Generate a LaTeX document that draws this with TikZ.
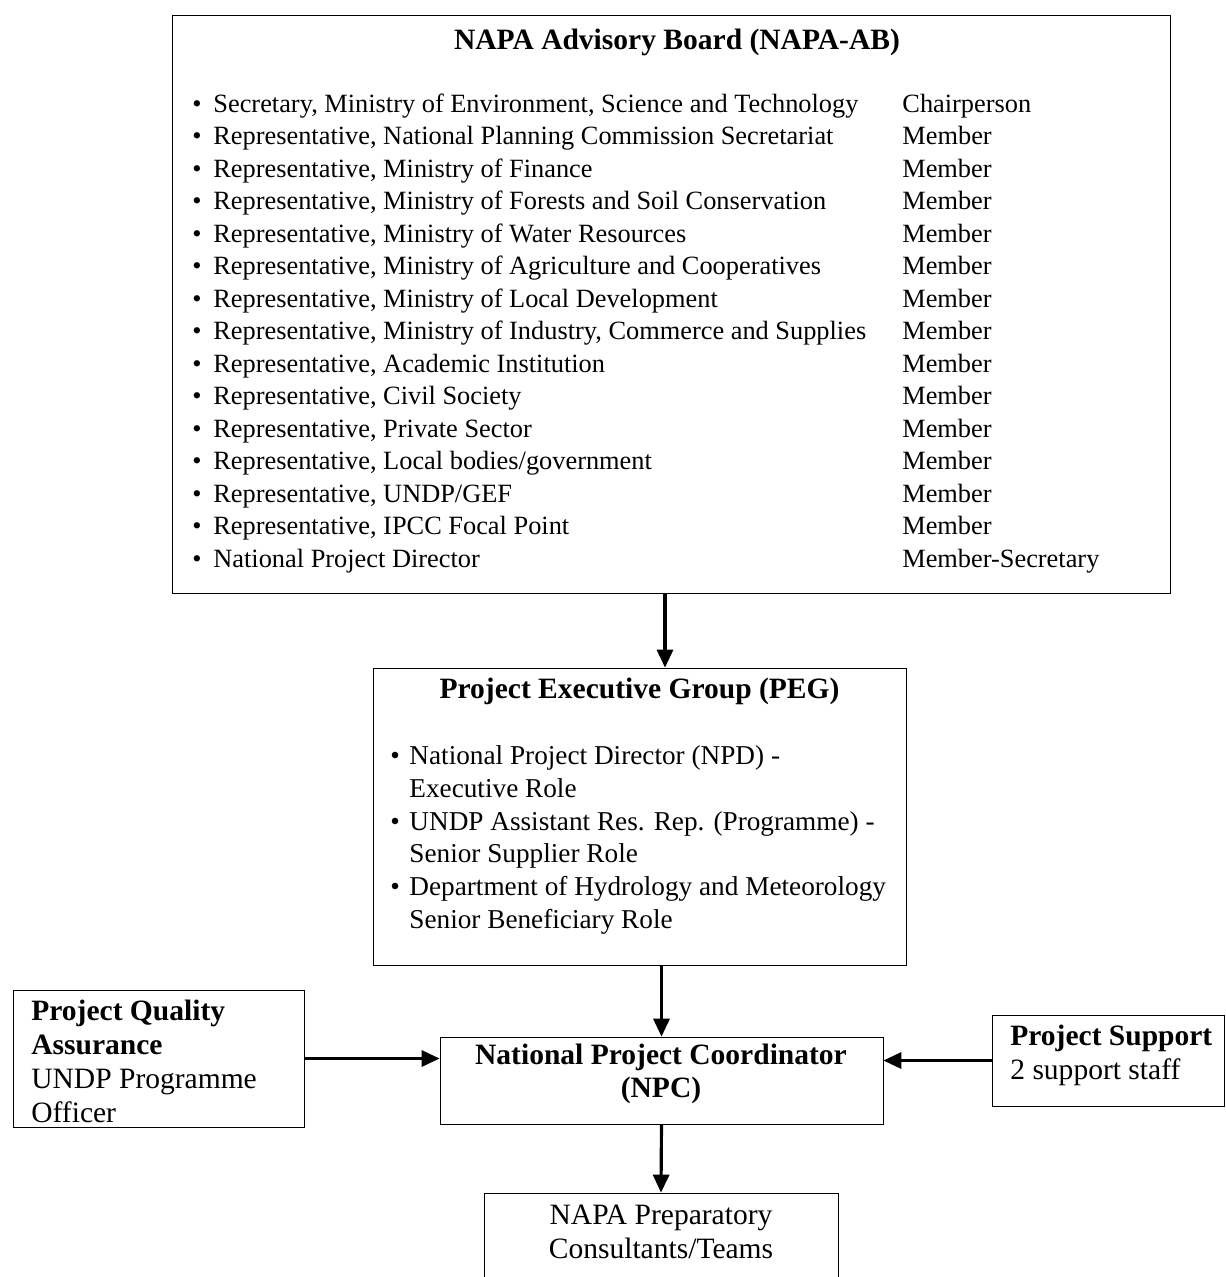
\documentclass[tikz,border=0pt]{standalone}
\usepackage{fontspec}
\setmainfont{Liberation Serif}
\usepackage{array}
\usetikzlibrary{positioning,arrows.meta,calc}

\begin{document}
\begin{tikzpicture}[
    line/.style={draw, line width=1.8pt, -{Triangle[length=0.36cm,width=0.32cm]}},
    box/.style={draw, rectangle, thin, inner sep=0pt},
    txt/.style={font=\fontsize{16.8}{19.3}\selectfont, inner sep=0pt, align=center},
    head/.style={font=\fontsize{16.8}{18.7}\selectfont\bfseries, inner sep=0pt}
]
\useasboundingbox (0,0) rectangle (24.52,-25.54);

% advisory board
\node[box, minimum width=19.96cm, minimum height=11.56cm] (ab) at (13.42,-6.08) {};
\node[head] (abtitle) at (13.54,-0.84) {NAPA Advisory Board (NAPA-AB)};
\node[anchor=north west, inner sep=0pt, font=\fontsize{15}{18.5}\selectfont] (members) at (3.84,-1.78) {%
\begin{tabular}{@{}p{14.20cm}@{}l@{}}
\textbullet\hspace{0.45em}Secretary, Ministry of Environment, Science and Technology & Chairperson\\
\textbullet\hspace{0.45em}Representative, National Planning Commission Secretariat & Member\\
\textbullet\hspace{0.45em}Representative, Ministry of Finance & Member\\
\textbullet\hspace{0.45em}Representative, Ministry of Forests and Soil Conservation & Member\\
\textbullet\hspace{0.45em}Representative, Ministry of Water Resources & Member\\
\textbullet\hspace{0.45em}Representative, Ministry of Agriculture and Cooperatives & Member\\
\textbullet\hspace{0.45em}Representative, Ministry of Local Development & Member\\
\textbullet\hspace{0.45em}Representative, Ministry of Industry, Commerce and Supplies & Member\\
\textbullet\hspace{0.45em}Representative, Academic Institution & Member\\
\textbullet\hspace{0.45em}Representative, Civil Society & Member\\
\textbullet\hspace{0.45em}Representative, Private Sector & Member\\
\textbullet\hspace{0.45em}Representative, Local bodies/government & Member\\
\textbullet\hspace{0.45em}Representative, UNDP/GEF & Member\\
\textbullet\hspace{0.45em}Representative, IPCC Focal Point & Member\\
\textbullet\hspace{0.45em}National Project Director & Member-Secretary
\end{tabular}};

% executive group
\node[box, minimum width=10.66cm, minimum height=5.94cm] (peg) at (12.79,-16.33) {};
\node[head] (pegtitle) at (12.79,-13.82) {Project Executive Group (PEG)};
\node[anchor=north west, inner sep=0pt, font=\fontsize{15.5}{18.7}\selectfont] (pegroles) at (7.80,-14.82) {%
\begin{tabular}{@{}l@{\hspace{0.35em}}l@{}}
\textbullet & National Project Director (NPD) -\\
 & Executive Role\\
\textbullet & UNDP Assistant Res. Rep. (Programme) -\\
 & Senior Supplier Role\\
\textbullet & Department of Hydrology and Meteorology\\
 & Senior Beneficiary Role
\end{tabular}};

% coordinator and side boxes
\node[box, minimum width=8.86cm, minimum height=1.74cm] (npc) at (13.23,-21.61) {};
\node[head, align=center] (npctext) at (13.22,-21.48) {National Project Coordinator\\(NPC)};

\node[box, minimum width=5.82cm, minimum height=2.74cm] (pqa) at (3.17,-21.17) {};
\node[txt, anchor=north west, align=left] (pqatext) at (0.62,-20.00) {\textbf{Project Quality}\\\textbf{Assurance}\\UNDP Programme\\Officer};

\node[box, minimum width=4.64cm, minimum height=1.82cm] (ps) at (22.16,-21.21) {};
\node[txt, anchor=north west, align=left] (pstext) at (20.20,-20.50) {\textbf{Project Support}\\2 support staff};

\node[box, minimum width=7.08cm, minimum height=2.14cm] (prep) at (13.22,-24.93) {};
\node[txt] (preptext) at (13.22,-24.64) {NAPA Preparatory\\Consultants/Teams};

% arrows
\draw[line] ([xshift=-0.12cm]ab.south) -- ([xshift=-0.12cm]ab.south |- peg.north);
\draw[line] (peg.south -| npc.north) -- (npc.north);
\draw[line] (pqa.east) -- (pqa.east -| npc.west);
\draw[line] (ps.west) -- (ps.west -| npc.east);
\draw[line] (npc.south) -- (prep.north);

\end{tikzpicture}
\end{document}
